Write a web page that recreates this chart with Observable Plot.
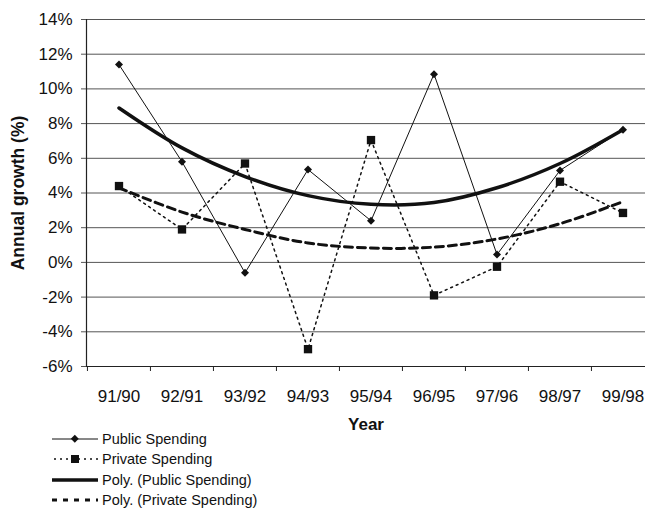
<!DOCTYPE html>
<html>
<head>
<meta charset="utf-8">
<script src="https://cdn.jsdelivr.net/npm/d3@7"></script>
<script src="https://cdn.jsdelivr.net/npm/@observablehq/plot@0.6"></script>
<style>
  body { margin: 0; background: #fff; font-family: "Liberation Sans", Arial, sans-serif; }
  #wrap { position: relative; width: 645px; height: 508px; overflow: hidden; }
  #legend { position: absolute; left: 52px; top: 429px; font-size: 14.5px; color: #111; }
  .row { display: flex; align-items: center; height: 20.3px; }
  .row svg { width: 46px; height: 20px; margin-right: 4px; }
</style>
</head>
<body>
<div id="wrap"><div id="chart"></div><div id="legend"></div></div>
<script>
const years = ["91/90","92/91","93/92","94/93","95/94","96/95","97/96","98/97","99/98"];
const publicSpending  = [11.4, 5.8, -0.6, 5.35, 2.4, 10.85, 0.45, 5.3, 7.65];
const privateSpending = [4.4, 1.9, 5.7, -5.0, 7.05, -1.9, -0.25, 4.65, 2.85];
const polyPublic  = [8.9, 6.6, 4.95, 3.85, 3.35, 3.45, 4.3, 5.7, 7.65];
const polyPrivate = [4.3, 2.9, 1.9, 1.12, 0.83, 0.88, 1.35, 2.23, 3.5];
const yTicks = [-6,-4,-2,0,2,4,6,8,10,12,14];

const rows = (vals) => years.map((y, i) => ({year: y, value: vals[i]}));
const pub = rows(publicSpending), priv = rows(privateSpending);
const ppub = rows(polyPublic), ppriv = rows(polyPrivate);

const chart = Plot.plot({
  width: 645,
  height: 440,
  marginLeft: 86,
  marginRight: 0,
  marginTop: 19,
  marginBottom: 74,
  style: {fontFamily: "'Liberation Sans', Arial, sans-serif", background: "#fff", color: "#111"},
  x: {type: "band", domain: years, range: [86, 654], padding: 0},
  y: {domain: [-6, 14]},
  marks: [
    Plot.gridY(yTicks, {stroke: "#555", strokeOpacity: 1, strokeWidth: 1}),
    Plot.ruleY([-6], {stroke: "#222", strokeWidth: 1.2}),
    Plot.frame({anchor: "left", stroke: "#222", strokeWidth: 1.2}),
    Plot.axisY(yTicks, {tickSize: 5, tickPadding: 9, fontSize: 17, tickFormat: d => d + "%", label: null, stroke: "#555"}),
    Plot.axisX({tickSize: 0, tickPadding: 23, fontSize: 17, label: null}),
    Plot.axisX({tickSize: 5, text: null, dx: -31.55, label: null, stroke: "#222"}),
    Plot.line(ppub, {x: "year", y: "value", curve: "catmull-rom", stroke: "#111", strokeWidth: 3.5}),
    Plot.line(ppriv, {x: "year", y: "value", curve: "catmull-rom", stroke: "#111", strokeWidth: 3, strokeDasharray: "8,5"}),
    Plot.line(pub, {x: "year", y: "value", stroke: "#111", strokeWidth: 1}),
    Plot.line(priv, {x: "year", y: "value", stroke: "#111", strokeWidth: 1.5, strokeDasharray: "2,4"}),
    Plot.dot(pub, {x: "year", y: "value", symbol: "square", rotate: 45, r: 3.2, fill: "#111", stroke: "none"}),
    Plot.dot(priv, {x: "year", y: "value", symbol: "square", r: 4.7, fill: "#111", stroke: "none"}),
    Plot.text(["Annual growth (%)"], {frameAnchor: "left", textAnchor: "middle", dx: -68, rotate: -90, fontSize: 17.5, fontWeight: "bold", fill: "#111"}),
    Plot.text(["Year"], {frameAnchor: "bottom", dy: 63, fontSize: 17, fontWeight: "bold", fill: "#111"})
  ]
});
document.getElementById("chart").appendChild(chart);

const legendItems = [
  {label: "Public Spending", svg: '<line x1="0" y1="10" x2="46" y2="10" stroke="#111" stroke-width="1"/><rect x="20" y="7" width="5.6" height="5.6" fill="#111" transform="rotate(45 22.8 9.8)"/>'},
  {label: "Private Spending", svg: '<line x1="2" y1="10" x2="46" y2="10" stroke="#111" stroke-width="1.5" stroke-dasharray="2,4"/><rect x="19" y="6" width="8" height="8" fill="#111"/>'},
  {label: "Poly. (Public Spending)", svg: '<line x1="0" y1="10" x2="46" y2="10" stroke="#111" stroke-width="3.5"/>'},
  {label: "Poly. (Private Spending)", svg: '<line x1="0" y1="10" x2="46" y2="10" stroke="#111" stroke-width="3" stroke-dasharray="5,6"/>'}
];
const legend = document.getElementById("legend");
for (const it of legendItems) {
  const row = document.createElement("div");
  row.className = "row";
  row.innerHTML = '<svg viewBox="0 0 46 20">' + it.svg + '</svg><span>' + it.label + '</span>';
  legend.appendChild(row);
}
</script>
</body>
</html>
